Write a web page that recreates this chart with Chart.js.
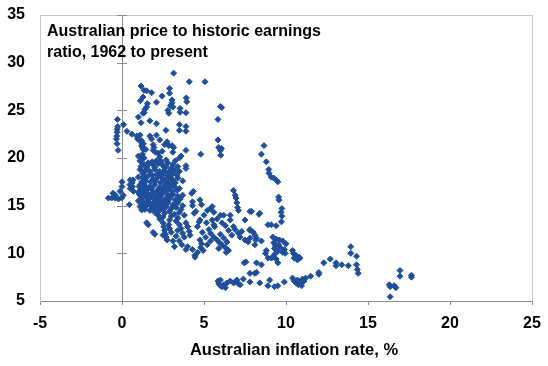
<!DOCTYPE html>
<html>
<head>
<meta charset="utf-8">
<script src="https://cdn.jsdelivr.net/npm/chart.js@4"></script>
<style>
  html, body { margin: 0; padding: 0; background: #fff; }
  #wrap { width: 548px; height: 366px; position: relative; }
</style>
</head>
<body>
<div id="wrap"><canvas id="peChart"></canvas></div>
<script>
const xTicks = [-5, 0, 5, 10, 15, 20, 25];
const yTicks = [5, 10, 15, 20, 25, 30, 35];
const titleLines = ["Australian price to historic earnings", "ratio, 1962 to present"];
const xTitle = "Australian inflation rate, %";

// [inflation %, P/E]
const nearZero = [
  [-0.83, 15.8], [-0.63, 15.8], [-0.43, 15.8], [-0.22, 15.7], [-0.02, 15.8], [-0.55, 16.3],
  [-0.4, 16.1], [-0.12, 16.5], [0.08, 16.1], [0.0, 17.0], [0.0, 17.5], [0.5, 17.7],
  [0.68, 17.7], [0.62, 17.4], [0.64, 17.0], [0.7, 16.5], [0.45, 15.1], [0.5, 16.8],
  [0.48, 17.2], [-0.24, 20.8], [-0.3, 21.5], [-0.28, 24.05], [-0.3, 23.0], [-0.3, 22.7],
  [-0.32, 22.3], [-0.34, 22.0], [-0.26, 23.3], [0.1, 23.5], [0.3, 22.8], [0.9, 22.3],
  [1.1, 22.4], [0.95, 22.0], [0.6, 22.5]
];

const highPe = [
  [1.16, 27.55], [1.34, 27.1], [1.5, 27.05], [1.8, 26.85], [2.9, 27.3], [2.9, 26.8],
  [2.44, 26.5], [1.28, 26.4], [1.12, 26.0], [3.05, 26.1], [3.05, 25.8], [3.92, 26.3],
  [3.95, 25.9], [2.1, 25.85], [2.95, 25.5], [3.1, 25.35], [1.55, 25.7], [1.5, 25.35],
  [1.4, 25.1], [1.35, 24.75], [3.54, 25.2], [3.54, 24.8], [3.9, 24.75], [1.28, 24.7],
  [1.0, 24.3], [2.85, 24.7], [2.8, 25.0], [3.15, 28.9], [4.1, 28.0], [5.06, 28.0],
  [1.16, 23.7], [1.7, 23.9], [2.1, 23.6], [2.68, 22.9], [3.5, 23.5], [3.9, 23.3],
  [3.9, 22.8], [3.5, 22.9], [1.2, 21.8], [1.3, 21.5], [1.25, 21.1], [1.7, 22.3],
  [1.8, 22.0], [1.9, 21.4], [1.95, 21.1], [2.1, 22.4], [2.3, 21.9], [2.6, 21.4],
  [2.75, 21.7], [2.85, 21.3], [3.05, 21.3], [3.15, 21.1], [1.9, 20.8], [2.05, 20.6],
  [2.2, 20.5], [2.45, 20.7], [3.9, 20.8], [3.6, 20.2], [3.1, 20.6], [1.0, 20.2],
  [1.15, 20.05], [1.3, 20.0], [1.45, 20.9], [3.9, 19.2], [3.9, 18.9], [4.8, 20.4],
  [3.5, 20.0], [2.3, 20.1], [1.15, 21.7], [1.2, 21.3], [1.3, 20.9], [1.25, 20.4],
  [1.35, 20.0], [1.1, 19.7]
];

const highPeSix = [
  [6.0, 25.4], [6.08, 25.3], [5.85, 24.05], [5.85, 21.9], [5.9, 21.1], [6.0, 20.8],
  [6.02, 20.3], [6.06, 21.0]
];

const coreCluster = [
  [1.3, 19.4], [1.6, 19.5], [1.9, 19.3], [2.2, 19.4], [2.5, 19.2], [2.8, 19.5],
  [3.1, 19.3], [3.4, 19.1], [2.0, 19.0], [2.6, 19.0], [3.0, 18.9], [1.5, 19.0],
  [1.1, 18.8], [1.4, 18.7], [1.7, 18.6], [2.0, 18.8], [2.3, 18.6], [2.6, 18.7],
  [2.9, 18.5], [3.2, 18.7], [3.5, 18.6], [1.25, 18.4], [2.15, 18.3],
  [2.45, 18.4], [2.75, 18.2], [3.05, 18.3], [3.35, 18.2], [1.0, 18.0], [1.3, 17.9],
  [1.6, 18.1], [1.9, 17.8], [2.2, 18.0], [2.5, 17.8], [2.8, 17.9], [3.1, 17.7],
  [3.4, 17.9], [3.7, 17.6], [1.45, 17.6], [1.75, 17.5], [2.05, 17.6], [2.35, 17.4],
  [2.65, 17.5], [2.95, 17.3], [3.25, 17.4], [1.1, 17.2], [1.4, 17.1],
  [1.7, 17.0], [2.0, 17.2], [2.3, 16.9], [2.6, 17.1], [2.9, 16.9], [3.2, 17.0],
  [3.5, 16.8], [1.25, 16.8], [1.55, 16.7], [2.15, 16.6], [2.75, 16.6],
  [3.05, 16.5], [3.35, 16.6], [1.0, 16.4], [1.3, 16.3], [1.6, 16.2],
  [1.9, 16.4], [2.2, 16.2], [2.5, 16.3], [2.8, 16.1], [3.1, 16.2], [3.4, 16.0],
  [3.7, 16.1], [1.15, 16.0], [1.45, 15.9], [1.75, 16.0], [2.05, 15.8],
  [2.35, 15.9], [2.65, 15.7], [2.95, 15.8], [3.25, 15.6], [3.55, 15.7],
  [1.0, 15.5], [1.3, 15.4], [1.6, 15.6], [1.9, 15.3], [2.2, 15.5], [2.5, 15.2],
  [2.8, 15.4], [3.1, 15.1], [3.4, 15.3], [3.7, 15.0], [1.2, 15.1],
  [1.5, 15.0], [1.8, 14.9], [2.1, 15.0], [2.4, 14.8], [2.7, 14.9], [3.0, 14.7],
  [3.3, 14.8], [3.6, 14.6], [1.7, 14.5], [2.0, 14.3], [2.3, 14.5],
  [2.6, 14.2], [2.9, 14.4], [3.2, 14.1], [3.5, 14.3], [3.8, 14.0],
  [2.2, 14.0], [2.5, 13.8], [3.0, 13.9], [3.4, 13.7],
  [1.15, 19.1], [1.85, 19.6], [2.35, 19.7], [2.7, 19.8], [3.25, 19.7], [1.35, 18.1],
  [1.85, 18.2], [2.4, 18.1], [2.95, 18.0], [1.2, 17.5], [2.5, 16.7],
  [1.8, 16.8], [3.0, 16.1], [2.4, 15.5], [1.65, 15.2], [3.2, 15.0], [2.6, 15.0],
  [1.35, 14.8], [2.15, 14.6]
];

const coreRing = [
  [1.3, 17.9], [1.35, 18.5], [1.5, 19.1], [1.8, 19.5], [2.1, 19.7], [2.4, 19.5],
  [2.7, 19.1], [2.85, 18.5], [2.9, 17.9], [2.85, 17.3], [2.7, 16.7], [2.4, 16.3],
  [2.1, 16.1], [1.8, 16.3], [1.5, 16.7], [1.35, 17.3], [1.4, 17.7], [2.75, 17.6],
  [1.6, 19.3], [2.55, 16.5], [1.05, 16.2], [1.15, 15.7], [1.25, 15.3], [1.4, 16.5],
  [1.55, 15.4], [1.7, 15.8], [1.85, 15.1], [2.0, 15.6], [2.15, 15.2], [2.3, 15.7],
  [2.45, 15.0], [2.6, 15.5], [2.75, 15.2], [1.1, 14.9], [1.4, 14.6], [1.95, 14.7],
  [2.55, 14.6], [1.05, 17.0], [1.1, 16.6]
];

const lowerLeft = [
  [1.2, 14.55], [1.5, 13.2], [1.6, 13.0], [1.9, 12.2], [2.0, 12.0], [2.2, 14.0],
  [2.3, 13.6], [2.5, 13.2], [2.55, 12.8], [2.6, 12.4], [2.65, 12.0], [2.7, 11.7],
  [2.75, 11.4], [2.5, 11.9], [2.9, 12.6], [2.85, 13.0], [3.0, 12.2], [3.2, 10.7],
  [3.1, 11.3], [3.3, 11.8], [3.4, 12.4], [3.5, 13.0], [3.6, 12.6], [3.7, 12.1],
  [3.8, 11.7], [3.9, 13.2], [4.0, 12.8], [4.1, 12.3], [4.15, 11.9], [3.5, 11.3],
  [3.9, 10.4], [4.0, 10.7], [4.45, 9.6], [4.45, 9.8], [4.3, 10.4], [4.6, 10.1],
  [3.65, 10.9], [3.3, 13.4], [2.9, 13.5]
];

const midInflation = [
  [4.25, 16.3], [4.35, 16.5], [4.3, 15.4], [4.3, 15.0], [4.75, 15.6], [4.85, 15.1],
  [4.75, 13.5], [4.7, 13.3], [5.15, 13.2], [5.3, 12.5], [5.4, 12.1], [5.4, 14.7],
  [5.6, 14.3], [5.5, 14.9], [6.0, 14.0], [6.2, 14.0], [6.6, 14.0], [6.6, 13.5],
  [6.8, 16.6], [6.9, 16.1], [6.95, 15.8], [7.0, 15.3], [7.05, 14.8], [7.1, 14.5],
  [7.5, 13.5], [7.9, 14.4], [8.4, 14.2], [7.8, 14.4], [5.6, 11.7], [5.8, 11.4],
  [5.95, 11.1], [6.1, 10.9], [6.3, 10.6], [6.5, 10.3], [6.35, 10.1], [4.75, 11.4],
  [4.85, 11.0], [4.8, 10.6], [4.95, 10.3], [5.6, 13.0], [5.65, 12.8], [6.8, 12.8],
  [6.9, 12.5], [7.1, 12.1], [7.2, 11.7], [7.5, 11.4], [7.7, 11.2], [7.8, 12.4],
  [8.0, 12.2], [5.2, 14.5], [4.5, 14.4], [4.4, 14.2], [5.0, 14.0], [5.8, 13.6],
  [6.1, 13.2], [6.3, 12.9], [6.5, 12.4], [6.0, 12.0], [6.2, 11.6], [5.4, 11.3],
  [5.2, 10.9], [5.9, 10.5], [6.4, 11.2], [6.7, 11.9], [7.3, 12.3], [5.5, 13.5],
  [4.6, 12.8], [4.9, 12.2], [5.1, 11.7]
];

const seventiesHigh = [
  [8.5, 20.4], [8.66, 21.3], [8.8, 19.6], [8.95, 18.8], [8.96, 18.4], [9.1, 18.0],
  [9.25, 17.9], [9.4, 17.7], [9.5, 17.5], [9.55, 15.9], [9.57, 15.6], [9.75, 14.7],
  [9.7, 14.3], [9.75, 13.9], [9.72, 13.3], [8.9, 13.0], [9.1, 13.0], [9.4, 12.9],
  [8.35, 14.1]
];

const seventiesMid = [
  [7.8, 12.5], [8.1, 11.9], [8.2, 11.6], [8.15, 11.4], [8.5, 11.3], [7.8, 11.6],
  [8.1, 10.9], [9.2, 11.7], [9.4, 11.5], [9.6, 11.4], [9.8, 11.3], [9.25, 11.1],
  [9.35, 10.8], [9.3, 10.5], [9.55, 10.9], [9.65, 10.6], [9.5, 10.2], [9.3, 9.9],
  [9.2, 9.6], [9.4, 9.4], [8.8, 10.3], [8.75, 10.0], [9.95, 10.0], [8.9, 9.5],
  [9.1, 9.5], [9.5, 9.0], [8.5, 8.8], [8.2, 9.0], [7.55, 9.1], [7.45, 9.0],
  [10.4, 10.3], [10.45, 10.0], [10.6, 9.8], [10.5, 9.5], [10.8, 9.6], [10.7, 9.3],
  [10.85, 9.5], [9.9, 10.4], [9.8, 10.1], [10.0, 11.0]
];

const lowPe = [
  [5.85, 7.1], [5.9, 6.8], [6.0, 6.6], [6.1, 6.5], [6.2, 6.7], [6.4, 6.9],
  [6.6, 7.1], [6.8, 6.9], [6.0, 7.2], [6.3, 6.4], [6.95, 7.0], [7.1, 6.8],
  [7.2, 6.7], [7.0, 7.2], [7.4, 7.3], [7.8, 7.0], [7.8, 7.9], [8.1, 7.9],
  [8.2, 8.0], [8.4, 6.9], [8.9, 6.6], [9.3, 6.5], [9.0, 7.2], [9.5, 6.6],
  [9.9, 7.0], [10.4, 7.4], [10.5, 7.1], [10.6, 6.9], [10.7, 7.2], [10.8, 6.8],
  [10.9, 7.0], [11.0, 7.3], [11.1, 7.1], [10.75, 6.7], [10.95, 6.6], [11.2, 7.4],
  [11.5, 7.6], [12.0, 8.0], [12.0, 7.8], [12.3, 9.0], [12.7, 9.4], [13.05, 9.0],
  [13.05, 8.7], [13.4, 8.8], [13.8, 8.7], [13.95, 10.7], [13.95, 10.0], [14.3, 9.7],
  [14.3, 8.8], [14.35, 8.3], [14.4, 7.9], [16.3, 6.7], [16.35, 6.5], [16.6, 6.6],
  [16.7, 6.4], [16.35, 5.45], [16.95, 8.2], [16.95, 7.6], [17.65, 7.7], [17.65, 7.5]
];

const allPoints = [].concat(nearZero, highPe, highPeSix, coreCluster, coreRing, lowerLeft,
  midInflation, seventiesHigh, seventiesMid, lowPe);

const FONT = "'Liberation Sans', Arial, sans-serif";
const LIGHT = "#c8c8c8";
const AXIS = "#8c8c8c";

// vertical axis line at x = 0 with cross ticks, the title inside the plot, the x title
const zeroAxis = {
  id: "zeroAxis",
  afterDraw(chart) {
    const { ctx, chartArea, scales } = chart;
    const x0 = scales.x.getPixelForValue(0);
    ctx.save();
    ctx.strokeStyle = AXIS;
    ctx.lineWidth = 1;
    ctx.beginPath();
    yTicks.forEach(v => {
      const y = Math.round(scales.y.getPixelForValue(v)) + 0.5;
      ctx.moveTo(x0 - 5, y);
      ctx.lineTo(x0 + 5, y);
    });
    ctx.stroke();

    ctx.fillStyle = "#000";
    ctx.font = "bold 16px " + FONT;
    ctx.textBaseline = "alphabetic";
    titleLines.forEach((t, i) => {
      ctx.fillText(t, chartArea.left + 7, chartArea.top + 21 + i * 21);
    });

    ctx.font = "bold 16.5px " + FONT;
    ctx.textAlign = "center";
    ctx.fillText(xTitle, (chartArea.left + chartArea.right) / 2 + 8, chartArea.bottom + 54);
    ctx.restore();
  }
};

new Chart(document.getElementById("peChart"), {
  type: "scatter",
  data: {
    datasets: [{
      label: "P/E",
      data: allPoints,
      pointStyle: "rectRot",
      pointRadius: 3,
      pointBorderWidth: 1,
      backgroundColor: "#1f4e9a",
      borderColor: "#1f4e9a"
    }]
  },
  options: {
    responsive: true,
    maintainAspectRatio: false,
    animation: false,
    layout: { padding: { left: 0, right: 16, top: 15, bottom: 0 } },
    plugins: {
      legend: { display: false },
      tooltip: { enabled: false }
    },
    scales: {
      x: {
        type: "linear",
        min: xTicks[0],
        max: xTicks[xTicks.length - 1],
        afterBuildTicks: (s) => { s.ticks = xTicks.map(v => ({ value: v })); },
        afterFit: (s) => { s.height = 65; s.paddingLeft = 0; s.paddingRight = 0; },
        border: { color: AXIS, width: 1 },
        grid: {
          color: (c) => c.tick && c.tick.value === 0 ? AXIS : (c.tick && c.tick.value === 25 ? LIGHT : "transparent"),
          tickColor: AXIS,
          tickLength: 4
        },
        ticks: { color: "#000", font: { family: FONT, size: 16, weight: "bold" }, padding: 9 }
      },
      y: {
        min: yTicks[0],
        max: yTicks[yTicks.length - 1],
        afterBuildTicks: (s) => { s.ticks = yTicks.map(v => ({ value: v })); },
        afterFit: (s) => { s.width = 40; s.paddingTop = 0; s.paddingBottom = 0; },
        border: { color: LIGHT, width: 1 },
        grid: {
          color: (c) => c.tick && c.tick.value === 35 ? LIGHT : "transparent",
          drawTicks: false
        },
        ticks: { color: "#000", font: { family: FONT, size: 16, weight: "bold" }, padding: 15 }
      }
    }
  },
  plugins: [zeroAxis]
});
</script>
</body>
</html>
